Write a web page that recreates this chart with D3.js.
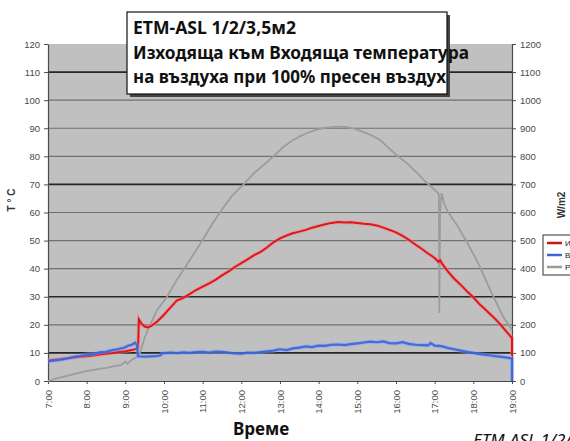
<!DOCTYPE html>
<html>
<head>
<meta charset="utf-8">
<script src="https://cdn.jsdelivr.net/npm/d3@7"></script>
<style>
  html, body { margin: 0; padding: 0; background: #fff; }
  svg { display: block; }
  .tick text { font-family: Arial, "Liberation Sans", sans-serif; font-size: 9.5px; fill: #4a4a4a; }
</style>
</head>
<body>
<svg id="chart" width="570" height="441"></svg>
<script>
// hours shown on the time axis
const hourTicks = [7, 8, 9, 10, 11, 12, 13, 14, 15, 16, 17, 18, 19];
const tempTicks = [0, 10, 20, 30, 40, 50, 60, 70, 80, 90, 100, 110, 120];
const radTicks = [0, 100, 200, 300, 400, 500, 600, 700, 800, 900, 1000, 1100, 1200];
const strongGrid = [10, 30, 70, 110];

const titleLines = ['ETM-ASL 1/2/3,5м2', 'Изходяща към Входяща температура', 'на въздуха при 100% пресен въздух'];
const seriesNames = ['Изходяща', 'Входяща', 'Радиация'];

// [hour, °C]
const outletTemp = [
  [7.0, 7.4], [7.17, 7.6], [7.33, 7.8], [7.5, 8.1], [7.67, 8.4], [7.83, 8.6], [8.0, 8.8],
  [8.17, 9.1], [8.33, 9.4], [8.5, 9.7], [8.67, 10.0], [8.83, 10.3], [9.0, 10.6], [9.17, 11.0],
  [9.3, 11.5], [9.33, 12.0], [9.35, 22.0], [9.42, 20.4], [9.5, 19.4], [9.58, 19.1], [9.67, 19.6],
  [9.83, 21.3], [10.0, 23.6], [10.17, 26.2], [10.33, 28.6], [10.5, 29.6], [10.67, 31.0],
  [10.83, 32.4], [11.0, 33.6], [11.17, 34.8], [11.33, 36.0], [11.5, 37.6], [11.67, 39.0],
  [11.83, 40.6], [12.0, 42.0], [12.17, 43.4], [12.33, 44.8], [12.5, 46.0], [12.67, 47.6],
  [12.83, 49.4], [13.0, 50.8], [13.17, 51.8], [13.33, 52.6], [13.5, 53.2], [13.67, 53.8],
  [13.83, 54.6], [14.0, 55.2], [14.17, 55.8], [14.33, 56.3], [14.5, 56.6], [14.67, 56.4],
  [14.83, 56.5], [15.0, 56.3], [15.17, 56.0], [15.33, 55.8], [15.5, 55.4], [15.67, 54.6],
  [15.83, 53.8], [16.0, 52.9], [16.17, 51.7], [16.33, 50.3], [16.5, 48.6], [16.67, 47.0],
  [16.83, 45.4], [17.0, 43.8], [17.1, 42.4], [17.14, 43.0], [17.2, 41.6], [17.33, 39.2],
  [17.5, 36.5], [17.67, 34.3], [17.83, 32.0], [18.0, 29.8], [18.17, 27.2], [18.33, 25.2],
  [18.5, 23.0], [18.67, 20.6], [18.83, 18.0], [19.0, 15.3], [19.0, 9.0]
];

// [hour, °C]
const inletTemp = [
  [7.0, 7.0], [7.17, 7.3], [7.33, 7.6], [7.5, 8.0], [7.67, 8.6], [7.83, 8.9], [8.0, 9.4],
  [8.17, 9.6], [8.33, 10.2], [8.5, 10.4], [8.67, 11.0], [8.83, 11.4], [9.0, 12.0], [9.08, 12.6],
  [9.17, 12.9], [9.25, 13.6], [9.3, 12.8], [9.33, 8.8], [9.5, 8.7], [9.67, 8.8], [9.83, 8.9],
  [9.92, 9.2], [9.95, 9.9], [10.0, 9.9], [10.17, 10.1], [10.33, 9.9], [10.5, 10.2], [10.67, 10.0],
  [10.83, 10.3], [11.0, 10.4], [11.17, 10.1], [11.33, 10.5], [11.5, 10.4], [11.67, 10.1],
  [11.83, 9.8], [12.0, 9.7], [12.17, 10.1], [12.33, 10.0], [12.5, 10.3], [12.67, 10.6],
  [12.83, 10.8], [13.0, 11.3], [13.17, 11.0], [13.33, 11.6], [13.5, 11.9], [13.67, 12.3],
  [13.83, 12.1], [14.0, 12.6], [14.17, 12.5], [14.33, 12.9], [14.5, 13.0], [14.67, 12.8],
  [14.83, 13.1], [15.0, 13.4], [15.17, 13.7], [15.33, 14.0], [15.5, 13.8], [15.67, 14.1],
  [15.83, 13.5], [16.0, 13.4], [16.17, 13.8], [16.33, 13.2], [16.5, 12.9], [16.67, 12.8],
  [16.83, 12.7], [16.9, 13.5], [17.0, 12.6], [17.17, 12.4], [17.33, 11.8], [17.5, 11.3],
  [17.67, 10.8], [17.83, 10.4], [18.0, 10.0], [18.17, 9.6], [18.33, 9.3], [18.5, 9.0],
  [18.67, 8.7], [18.83, 8.4], [19.0, 8.0], [19.0, 0]
];

// [hour, W/m2]
const radiation = [
  [7.0, 0], [7.25, 10], [7.5, 18], [7.75, 27], [8.0, 35], [8.25, 41], [8.5, 47], [8.75, 54],
  [8.9, 57], [9.0, 70], [9.05, 61], [9.17, 76], [9.33, 89], [9.38, 100], [9.5, 155], [9.64, 200],
  [9.83, 255], [10.08, 300], [10.33, 360], [10.67, 431], [10.97, 496], [11.25, 560], [11.49, 609],
  [11.75, 658], [12.09, 705], [12.33, 740], [12.6, 772], [12.82, 799], [13.1, 835], [13.34, 858],
  [13.5, 870], [13.7, 883], [13.95, 895], [14.2, 902], [14.47, 906], [14.7, 905], [14.89, 900],
  [15.1, 890], [15.35, 876], [15.59, 858], [15.85, 825], [16.05, 800], [16.28, 776], [16.55, 740],
  [16.8, 705], [17.01, 680], [17.08, 670], [17.11, 662], [17.12, 242], [17.14, 600], [17.18, 669],
  [17.25, 630], [17.34, 603], [17.6, 550], [17.83, 496], [18.0, 452], [18.17, 407], [18.45, 320],
  [18.77, 229], [19.0, 182]
];

const svg = d3.select('#chart');
const margin = { top: 44, right: 58, bottom: 60, left: 48 };
const width = 570 - margin.left - margin.right;
const height = 441 - margin.top - margin.bottom;

const x = d3.scaleLinear().domain([7, 19]).range([margin.left, margin.left + width]);
const yT = d3.scaleLinear().domain([0, 120]).range([margin.top + height, margin.top]);
const yR = d3.scaleLinear().domain([0, 1200]).range([margin.top + height, margin.top]);

// plot area
svg.append('rect')
  .attr('x', x(7)).attr('y', yT(120))
  .attr('width', x(19) - x(7)).attr('height', yT(0) - yT(120))
  .attr('fill', '#c0c0c0');

// gridlines
svg.append('g')
  .selectAll('line')
  .data(tempTicks.filter(d => d > 0 && d < 120))
  .enter().append('line')
  .attr('x1', x(7)).attr('x2', x(19))
  .attr('y1', d => yT(d)).attr('y2', d => yT(d))
  .attr('stroke', d => strongGrid.includes(d) ? '#262626' : '#707070')
  .attr('stroke-width', d => strongGrid.includes(d) ? 1.6 : 1.2);

// axes
const styleAxis = g => {
  g.select('.domain').attr('stroke', '#4a4a4a').attr('stroke-width', 1.2);
  g.selectAll('.tick line').attr('stroke', '#4a4a4a');
};

svg.append('g')
  .attr('transform', `translate(${x(7)},0)`)
  .call(d3.axisLeft(yT).tickValues(tempTicks).tickFormat(d3.format('d')).tickSize(4).tickPadding(4).tickSizeOuter(0))
  .call(styleAxis);

svg.append('g')
  .attr('transform', `translate(${x(19)},0)`)
  .call(d3.axisRight(yR).tickValues(radTicks).tickFormat(d3.format('d')).tickSize(4).tickPadding(4).tickSizeOuter(0))
  .call(styleAxis);

svg.append('g')
  .attr('transform', `translate(0,${yT(0)})`)
  .call(d3.axisBottom(x).tickValues(hourTicks).tickFormat(h => h + ':00').tickSize(3).tickSizeOuter(0))
  .call(styleAxis)
  .selectAll('text')
  .style('text-anchor', 'end')
  .attr('transform', 'rotate(-90)')
  .attr('x', -9)
  .attr('y', 0)
  .attr('dy', '0.35em');

// series
const lineT = d3.line().x(d => x(d[0])).y(d => yT(d[1]));
const lineR = d3.line().x(d => x(d[0])).y(d => yR(d[1]));

svg.append('path').datum(radiation)
  .attr('d', lineR).attr('fill', 'none')
  .attr('stroke', '#9c9c9c').attr('stroke-width', 1.8);

svg.append('path').datum(outletTemp)
  .attr('d', lineT).attr('fill', 'none')
  .attr('stroke', '#f08a8a').attr('stroke-width', 4).attr('opacity', 0.5);
svg.append('path').datum(outletTemp)
  .attr('d', lineT).attr('fill', 'none')
  .attr('stroke', '#e0151d').attr('stroke-width', 2);

svg.append('path').datum(inletTemp)
  .attr('d', lineT).attr('fill', 'none')
  .attr('stroke', '#7f9ff0').attr('stroke-width', 4).attr('opacity', 0.5);
svg.append('path').datum(inletTemp)
  .attr('d', lineT).attr('fill', 'none')
  .attr('stroke', '#3a63dc').attr('stroke-width', 2.2).attr('opacity', 0.9);

// axis titles
svg.append('text')
  .attr('transform', `translate(15,${200}) rotate(-90)`)
  .attr('text-anchor', 'middle')
  .style('font-family', 'Arial, "Liberation Sans", sans-serif')
  .style('font-size', '10px').style('font-weight', 'bold').attr('fill', '#333')
  .text('T ° C');

svg.append('text')
  .attr('transform', `translate(565,${205}) rotate(-90)`)
  .attr('text-anchor', 'middle')
  .style('font-family', 'Arial, "Liberation Sans", sans-serif')
  .style('font-size', '10px').style('font-weight', 'bold').attr('fill', '#333')
  .text('W/m2');

svg.append('text')
  .attr('x', 261).attr('y', 435)
  .attr('text-anchor', 'middle')
  .style('font-family', '"Noto Sans", sans-serif')
  .style('font-size', '17px').style('font-weight', 'bold').attr('fill', '#111')
  .text('Време');

svg.append('text')
  .attr('x', 473).attr('y', 446)
  .style('font-family', '"Noto Sans", sans-serif')
  .style('font-size', '17px').style('font-style', 'italic').attr('fill', '#111')
  .text('ETM-ASL 1/2/3,5м2');

// legend (runs off the right edge)
const legend = svg.append('g').attr('transform', 'translate(543,235)');
legend.append('rect')
  .attr('width', 45).attr('height', 40)
  .attr('fill', '#fff').attr('stroke', '#333').attr('stroke-width', 1);
const legendColors = ['#c8141b', '#3a63dc', '#9c9c9c'];
seriesNames.forEach((name, i) => {
  legend.append('line')
    .attr('x1', 4).attr('x2', 19)
    .attr('y1', 8 + i * 12).attr('y2', 8 + i * 12)
    .attr('stroke', legendColors[i]).attr('stroke-width', 2.5);
  legend.append('text')
    .attr('x', 22).attr('y', 11 + i * 12)
    .style('font-family', 'Arial, sans-serif').style('font-size', '8px')
    .attr('fill', '#222')
    .text(name);
});

// title box
const titleBox = svg.append('g').attr('transform', 'translate(127,12)');
titleBox.append('rect')
  .attr('x', 3).attr('y', 3).attr('width', 320).attr('height', 82)
  .attr('fill', '#444');
titleBox.append('rect')
  .attr('width', 320).attr('height', 82)
  .attr('fill', '#fff').attr('stroke', '#111').attr('stroke-width', 1.2);
const titleWidths = [163, 336, 313];
titleLines.forEach((t, i) => {
  titleBox.append('text')
    .attr('x', 6).attr('y', 22 + i * 24.5)
    .attr('textLength', titleWidths[i]).attr('lengthAdjust', 'spacingAndGlyphs')
    .style('font-family', '"Noto Sans", sans-serif')
    .style('font-size', '18px').style('font-weight', 'bold').attr('fill', '#111')
    .text(t);
});
</script>
</body>
</html>
